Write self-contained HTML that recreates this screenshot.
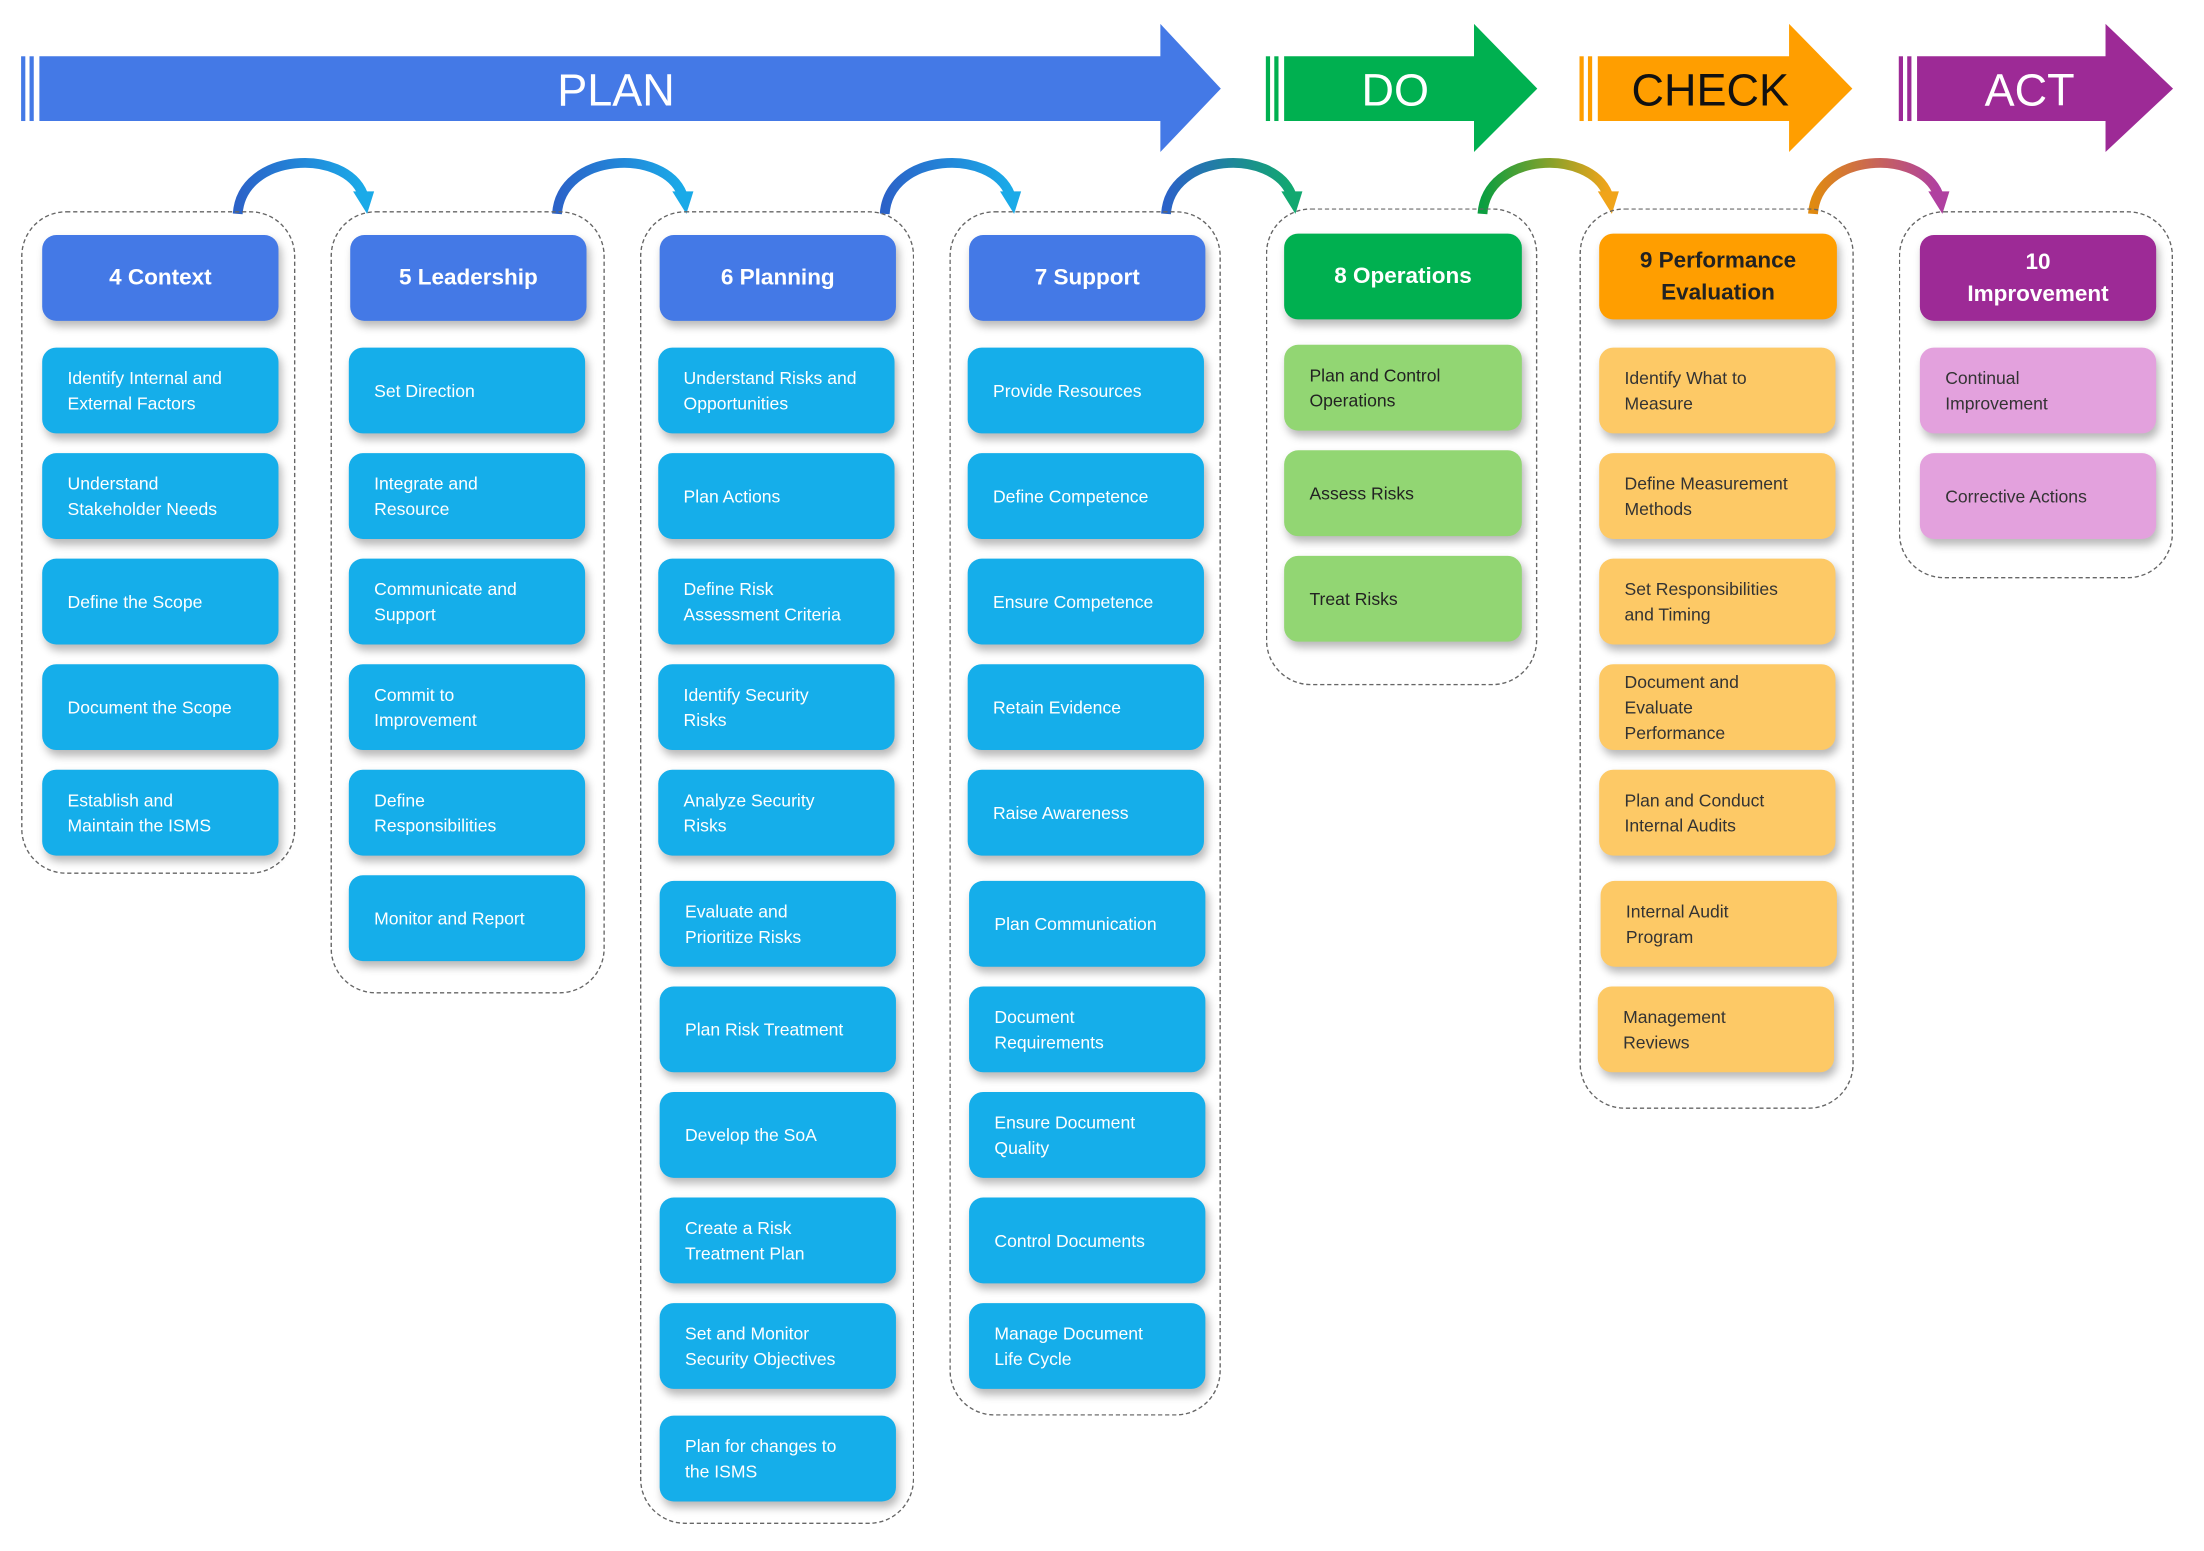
<!DOCTYPE html>
<html><head><meta charset="utf-8"><style>
html,body{margin:0;padding:0;background:#fff;}
body{width:2204px;height:1551px;overflow:hidden;position:relative;}
#w{position:absolute;left:0;top:0;width:1554px;height:1094px;transform:scale(1.4065,1.4072);transform-origin:0 0;font-family:"Liberation Sans",sans-serif;}
.c{position:absolute;border:1.3px dashed #666;border-radius:32px;box-sizing:border-box;}
.b{position:absolute;width:168px;height:61px;border-radius:10px;box-sizing:border-box;padding-left:18px;display:flex;align-items:center;font-size:12.5px;line-height:18px;color:#fff;box-shadow:2px 4px 6px rgba(0,0,0,0.28);}
.h{justify-content:center;padding-left:0;text-align:center;font-weight:bold;font-size:16px;line-height:23px;}
.bl{background:#15AEEA;}
.hb{background:#4479E6;}
.g{background:#92D673;color:#222;}
.hg{background:#00B050;}
.o{background:#FDC966;color:#333;}
.ho{background:#FF9E00;color:#222;}
.p{background:#E3A1DD;color:#333;}
.hp{background:#9D2A96;}
svg{position:absolute;left:0;top:0;}
</style></head><body><div id="w">
<svg width="1554" height="1094" viewBox="0 0 1554 1094">
<defs>
<linearGradient id="a1" x1="0" x2="1"><stop offset="0" stop-color="#2B62C8"/><stop offset="1" stop-color="#1AAAE8"/></linearGradient>
<linearGradient id="a4" x1="0" x2="1"><stop offset="0" stop-color="#2B62C8"/><stop offset="1" stop-color="#12A870"/></linearGradient>
<linearGradient id="a5" x1="0" x2="1"><stop offset="0" stop-color="#0A9E40"/><stop offset="1" stop-color="#F0A41A"/></linearGradient>
<linearGradient id="a6" x1="0" x2="1"><stop offset="0" stop-color="#E08A10"/><stop offset="1" stop-color="#B040A0"/></linearGradient>
</defs>
<rect x="15" y="40" width="3" height="46" fill="#4479E6"/><rect x="21" y="40" width="3" height="46" fill="#4479E6"/>
<polygon points="28,40 825,40 825,17 868,63 825,108 825,86 28,86" fill="#4479E6"/>
<text x="438" y="75" font-size="32" fill="#fff" text-anchor="middle" font-family="Liberation Sans">PLAN</text>
<rect x="900" y="40" width="3" height="46" fill="#00B050"/><rect x="906" y="40" width="3" height="46" fill="#00B050"/>
<polygon points="913,40 1048,40 1048,17 1093,63 1048,108 1048,86 913,86" fill="#00B050"/>
<text x="992" y="75" font-size="32" fill="#fff" text-anchor="middle">DO</text>
<rect x="1123" y="40" width="3" height="46" fill="#FF9E00"/><rect x="1129" y="40" width="3" height="46" fill="#FF9E00"/>
<polygon points="1136,40 1272,40 1272,17 1317,63 1272,108 1272,86 1136,86" fill="#FF9E00"/>
<text x="1216" y="75" font-size="32" fill="#111" text-anchor="middle">CHECK</text>
<rect x="1350" y="40" width="3" height="46" fill="#9D2A96"/><rect x="1356" y="40" width="3" height="46" fill="#9D2A96"/>
<polygon points="1363,40 1497,40 1497,17 1545,63 1497,108 1497,86 1363,86" fill="#9D2A96"/>
<text x="1443" y="75" font-size="32" fill="#fff" text-anchor="middle">ACT</text>
<g fill="none" stroke-width="7">
<path d="M169,152 C172,108 245,105 258,138" stroke="url(#a1)"/>
<path d="M396,152 C399,108 472,105 485,138" stroke="url(#a1)"/>
<path d="M629,152 C632,108 705,105 718,138" stroke="url(#a1)"/>
<path d="M829,152 C832,108 905,105 918,138" stroke="url(#a4)"/>
<path d="M1054,152 C1057,108 1130,105 1143,138" stroke="url(#a5)"/>
<path d="M1289,152 C1292,108 1365,105 1378,138" stroke="url(#a6)"/>
</g>
<polygon points="251,136 266,136 261,152" fill="#1AAAE8"/>
<polygon points="478,136 493,136 488,152" fill="#1AAAE8"/>
<polygon points="711,136 726,136 721,152" fill="#1AAAE8"/>
<polygon points="911,136 926,136 921,152" fill="#12A870"/>
<polygon points="1136,136 1151,136 1146,152" fill="#F0A41A"/>
<polygon points="1371,136 1386,136 1381,152" fill="#B040A0"/>
</svg>
<div class="c" style="left:15px;top:150px;width:195px;height:471px"></div>
<div class="c" style="left:235px;top:150px;width:195px;height:556px"></div>
<div class="c" style="left:455px;top:150px;width:195px;height:933px"></div>
<div class="c" style="left:675px;top:150px;width:193px;height:856px"></div>
<div class="c" style="left:900px;top:148px;width:193px;height:339px"></div>
<div class="c" style="left:1123px;top:148px;width:195px;height:640px"></div>
<div class="c" style="left:1350px;top:150px;width:195px;height:261px"></div>

<div class="b h hb" style="left:30px;top:167px">4 Context</div>
<div class="b bl" style="left:30px;top:247px">Identify Internal and<br>External Factors</div>
<div class="b bl" style="left:30px;top:322px">Understand<br>Stakeholder Needs</div>
<div class="b bl" style="left:30px;top:397px">Define the Scope</div>
<div class="b bl" style="left:30px;top:472px">Document the Scope</div>
<div class="b bl" style="left:30px;top:547px">Establish and<br>Maintain the ISMS</div>
<div class="b h hb" style="left:249px;top:167px">5 Leadership</div>
<div class="b bl" style="left:248px;top:247px">Set Direction</div>
<div class="b bl" style="left:248px;top:322px">Integrate and<br>Resource</div>
<div class="b bl" style="left:248px;top:397px">Communicate and<br>Support</div>
<div class="b bl" style="left:248px;top:472px">Commit to<br>Improvement</div>
<div class="b bl" style="left:248px;top:547px">Define<br>Responsibilities</div>
<div class="b bl" style="left:248px;top:622px">Monitor and Report</div>
<div class="b h hb" style="left:469px;top:167px">6 Planning</div>
<div class="b bl" style="left:468px;top:247px">Understand Risks and<br>Opportunities</div>
<div class="b bl" style="left:468px;top:322px">Plan Actions</div>
<div class="b bl" style="left:468px;top:397px">Define Risk<br>Assessment Criteria</div>
<div class="b bl" style="left:468px;top:472px">Identify Security<br>Risks</div>
<div class="b bl" style="left:468px;top:547px">Analyze Security<br>Risks</div>
<div class="b bl" style="left:469px;top:626px">Evaluate and<br>Prioritize Risks</div>
<div class="b bl" style="left:469px;top:701px">Plan Risk Treatment</div>
<div class="b bl" style="left:469px;top:776px">Develop the SoA</div>
<div class="b bl" style="left:469px;top:851px">Create a Risk<br>Treatment Plan</div>
<div class="b bl" style="left:469px;top:926px">Set and Monitor<br>Security Objectives</div>
<div class="b bl" style="left:469px;top:1006px">Plan for changes to<br>the ISMS</div>
<div class="b h hb" style="left:689px;top:167px">7 Support</div>
<div class="b bl" style="left:688px;top:247px">Provide Resources</div>
<div class="b bl" style="left:688px;top:322px">Define Competence</div>
<div class="b bl" style="left:688px;top:397px">Ensure Competence</div>
<div class="b bl" style="left:688px;top:472px">Retain Evidence</div>
<div class="b bl" style="left:688px;top:547px">Raise Awareness</div>
<div class="b bl" style="left:689px;top:626px">Plan Communication</div>
<div class="b bl" style="left:689px;top:701px">Document<br>Requirements</div>
<div class="b bl" style="left:689px;top:776px">Ensure Document<br>Quality</div>
<div class="b bl" style="left:689px;top:851px">Control Documents</div>
<div class="b bl" style="left:689px;top:926px">Manage Document<br>Life Cycle</div>
<div class="b h hg" style="left:913px;top:166px;width:169px">8 Operations</div>
<div class="b g" style="left:913px;top:245px;width:169px">Plan and Control<br>Operations</div>
<div class="b g" style="left:913px;top:320px;width:169px">Assess Risks</div>
<div class="b g" style="left:913px;top:395px;width:169px">Treat Risks</div>
<div class="b h ho" style="left:1137px;top:166px;width:169px">9 Performance<br>Evaluation</div>
<div class="b o" style="left:1137px;top:247px">Identify What to<br>Measure</div>
<div class="b o" style="left:1137px;top:322px">Define Measurement<br>Methods</div>
<div class="b o" style="left:1137px;top:397px">Set Responsibilities<br>and Timing</div>
<div class="b o" style="left:1137px;top:472px">Document and<br>Evaluate<br>Performance</div>
<div class="b o" style="left:1137px;top:547px">Plan and Conduct<br>Internal Audits</div>
<div class="b o" style="left:1138px;top:626px">Internal Audit<br>Program</div>
<div class="b o" style="left:1136px;top:701px">Management<br>Reviews</div>
<div class="b h hp" style="left:1365px;top:167px">10<br>Improvement</div>
<div class="b p" style="left:1365px;top:247px">Continual<br>Improvement</div>
<div class="b p" style="left:1365px;top:322px">Corrective Actions</div>
</div></body></html>
